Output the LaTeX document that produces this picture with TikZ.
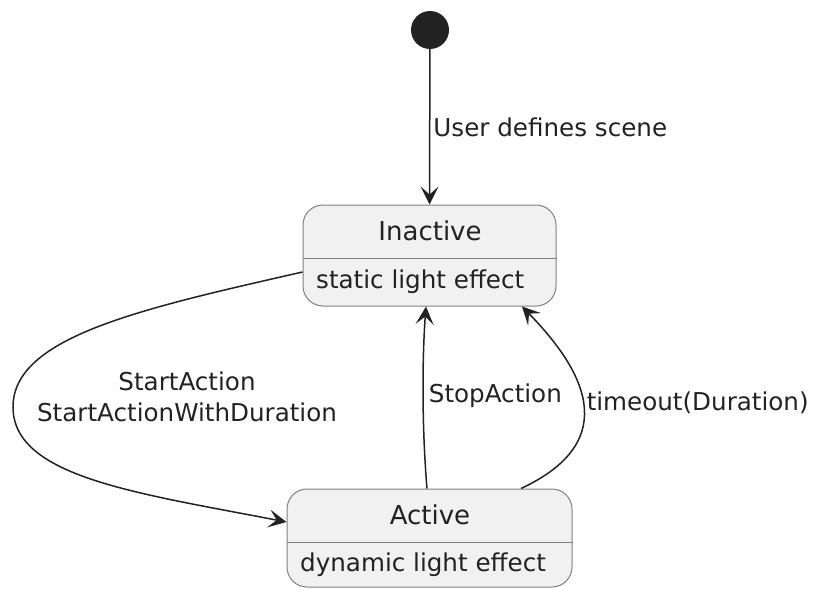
\documentclass[tikz,border=0pt]{standalone}
\usepackage{fontspec}
\setmainfont{DejaVu Sans}
\usepackage{tikz}
\usetikzlibrary{arrows.meta,positioning,calc}
\usepackage{xcolor}
\definecolor{boxfill}{HTML}{F1F1F1}
\definecolor{boxline}{HTML}{808080}
\definecolor{ink}{HTML}{222222}
\newcommand\titlefont{\fontsize{26}{31}\selectfont}
\newcommand\lblfont{\fontsize{24.6}{31}\selectfont}

\begin{document}
\begin{tikzpicture}[x=1pt,y=-1pt,
    state/.style={draw=boxline, fill=boxfill, line width=1pt, rounded corners=20pt, inner sep=0pt},
    flow/.style={draw=ink, line width=1.5pt, -{Stealth[length=18pt,width=18pt,inset=8pt]}},
    lbl/.style={text=ink, font=\lblfont, inner sep=0pt}]
    \useasboundingbox (0,0) rectangle (818,589);

    % 初始状态
    \node[circle, fill=ink, minimum size=38pt, inner sep=0pt] (initdot) at (430,30) {};

    % 状态框
    \node[state, minimum width=253pt, minimum height=101pt] (inactive) at (429.5,255.5) {};
    \draw[boxline, line width=1pt] (inactive.west |- 0,258) -- (inactive.east |- 0,258);
    \node[text=ink, font=\titlefont, anchor=base, inner sep=0pt] (inactivename) at (430,240) {Inactive};
    \node[lbl, anchor=base west] (inactivebody) at (316,288) {static light effect};

    \node[state, minimum width=285pt, minimum height=98pt] (active) at (429.5,538) {};
    \draw[boxline, line width=1pt] (active.west |- 0,542) -- (active.east |- 0,542);
    \node[text=ink, font=\titlefont, anchor=base, inner sep=0pt] (activename) at (430,524) {Active};
    \node[lbl, anchor=base west] (activebody) at (300,571) {dynamic light effect};

    % 转移
    \draw[flow] (initdot) -- (inactive.north)
        node[lbl, midway, anchor=west, inner sep=3pt] {User defines scene};

    \draw[flow] ([yshift=-16.5pt]inactive.west) .. controls (140,309) and (13,337) .. (13,407)
                .. controls (13,477) and (137,493) .. ([yshift=16pt]active.west);
    \node[lbl, align=center] (startlbl) at (187,397) {StartAction\\StartActionWithDuration};

    \draw[flow] (active.north -| 427,0) .. controls (422,430) and (422,360) .. (inactive.south -| 426,0)
        node[lbl, pos=0.5, anchor=west, inner sep=5pt] {StopAction};

    \draw[flow] (active.north -| 521,0) .. controls (625,440) and (582,368) .. (inactive.south -| 522,0)
        node[lbl, pos=0.5, anchor=west, inner sep=3pt] {timeout(Duration)};
\end{tikzpicture}
\end{document}
